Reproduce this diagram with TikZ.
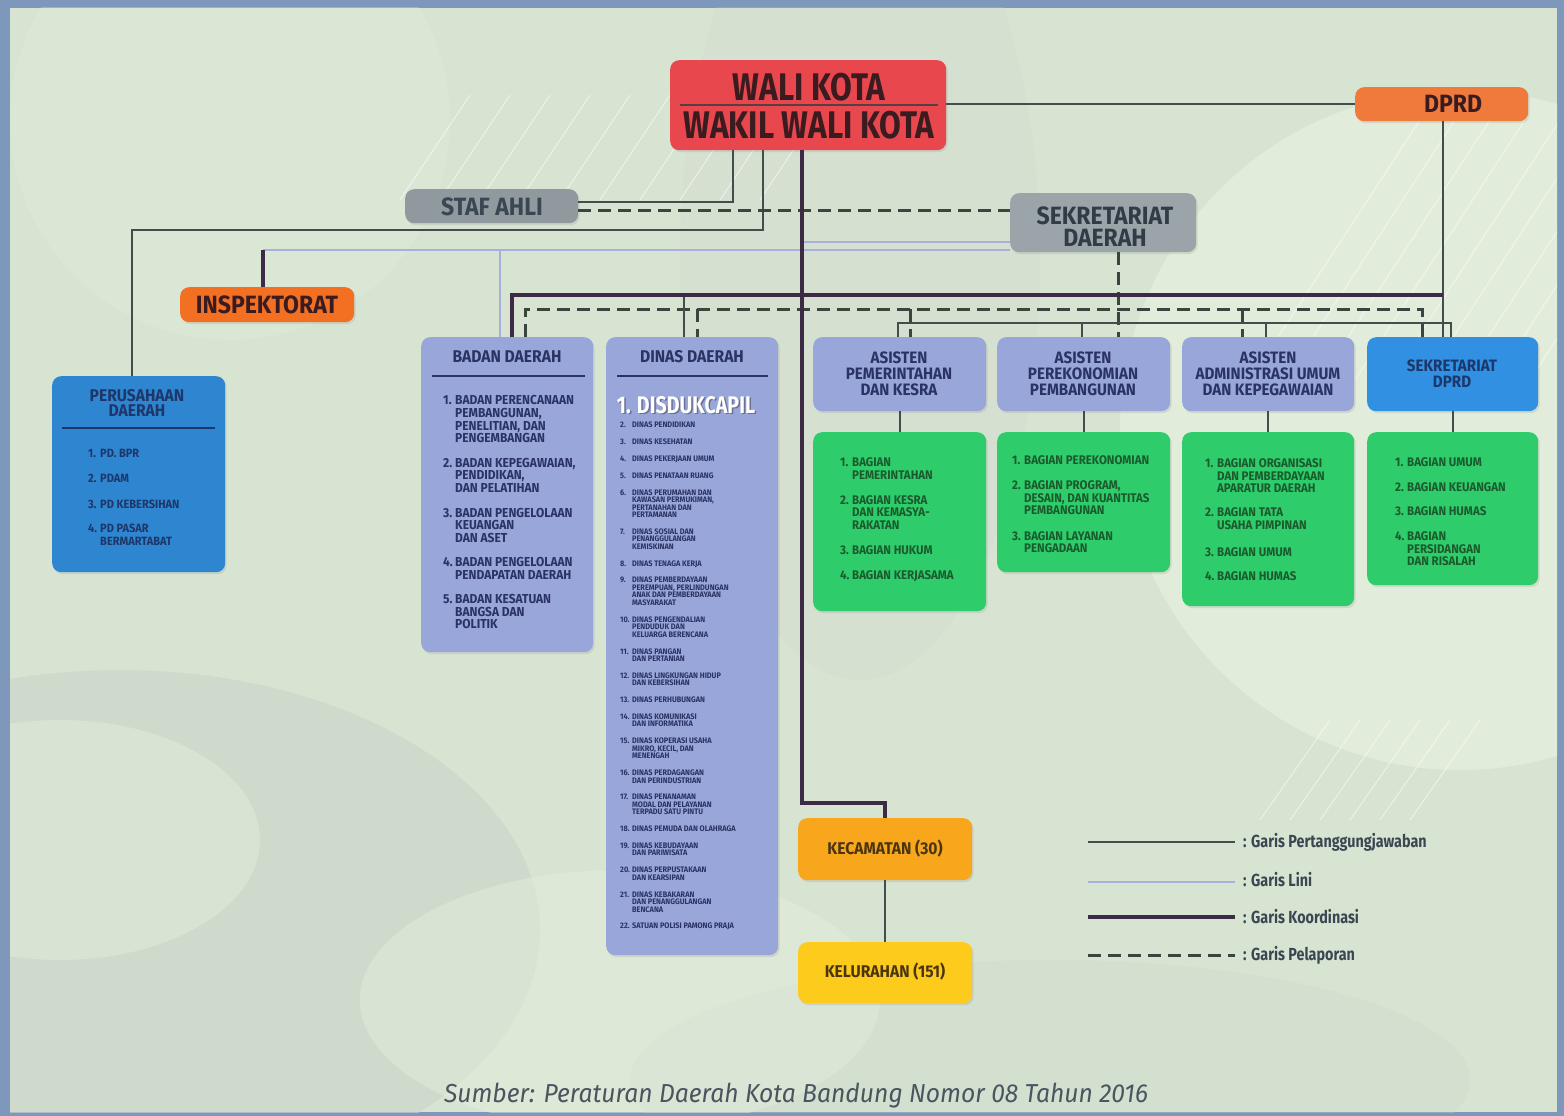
\documentclass[tikz,border=0pt]{standalone}
\usepackage{fontspec}
\setmainfont{Fira Sans}
\newfontfamily\cf{Fira Sans}[FakeStretch=0.82]
\newfontfamily\lf{Fira Sans}[FakeStretch=0.92]
\newfontfamily\srcf{Fira Sans}[FakeStretch=0.95]
\usetikzlibrary{shadows}
\definecolor{framec}{HTML}{7E98BC}
\definecolor{bgc}{HTML}{D8E4D2}
\definecolor{bglt}{HTML}{E4EEDD}
\definecolor{bgdk}{HTML}{CAD4CA}
\definecolor{wkc}{HTML}{E8474E}
\definecolor{wkt}{HTML}{3A1C20}
\definecolor{dprdc}{HTML}{EF7A3B}
\definecolor{inspc}{HTML}{F36F22}
\definecolor{grayc}{HTML}{8F999E}
\definecolor{grayt}{HTML}{3A4753}
\definecolor{sekc}{HTML}{9BA5A9}
\definecolor{lavc}{HTML}{98A6D9}
\definecolor{lavt}{HTML}{2A3363}
\definecolor{bluec}{HTML}{2E86D0}
\definecolor{blueb}{HTML}{3190E2}
\definecolor{bluet}{HTML}{1E376A}
\definecolor{grnc}{HTML}{2FCC6B}
\definecolor{grnt}{HTML}{1A5A2C}
\definecolor{kecc}{HTML}{F8A61C}
\definecolor{kelc}{HTML}{FCCB1C}
\definecolor{kect}{HTML}{4A3510}
\definecolor{thk}{HTML}{3D2B46}
\definecolor{thn}{HTML}{434D4C}
\definecolor{linc}{HTML}{A7B0DD}
\definecolor{dsh}{HTML}{3A4540}
\definecolor{srct}{HTML}{4A5560}
\newcommand\fz[2]{\fontsize{#1}{#2}\selectfont}
\newcommand\nb[1]{\makebox[12pt][l]{#1}}
\newcommand\ct{\hspace*{12pt}}
\newcommand\nbs[1]{\makebox[12pt][l]{#1}}
\newcommand\cts{\hspace*{12pt}}
\tikzset{
  box/.style={rounded corners=9pt, inner sep=0pt, anchor=north west, draw=none,
    drop shadow={opacity=0.18, shadow xshift=1.5pt, shadow yshift=-2pt}},
  thinln/.style={draw=thn, line width=1.6pt},
  linil/.style={draw=linc, line width=1.8pt},
  koord/.style={draw=thk, line width=4.5pt},
  lapor/.style={draw=dsh, line width=3pt, dash pattern=on 13pt off 7pt},
  hd/.style={inner sep=0pt, align=center},
  lst/.style={inner sep=0pt, anchor=north west, align=left},
  rain/.style={white, opacity=0.5, line width=1pt},
}
\begin{document}
\begin{tikzpicture}[x=1pt,y=-1pt]
\useasboundingbox (0,0) rectangle (1564,1116);
% ---------- background ----------
\fill[framec] (0,0) rectangle (1564,1116);
\fill[bgc] (10,8) rectangle (1557,1112);
\begin{scope}
\clip (10,8) rectangle (1557,1112);
\fill[bglt, opacity=0.8] (1460,430) circle (340);
\fill[bglt, opacity=0.3] (230,120) circle (220);
\fill[bgdk, opacity=0.6] (120,930) ellipse (420 and 260);
\fill[bglt, opacity=0.45] (60,840) ellipse (200 and 120);
\fill[bgdk, opacity=0.3] (1050,1080) ellipse (420 and 120);
\fill[bglt, opacity=0.45] (620,1000) ellipse (260 and 130);
\fill[bgdk, opacity=0.2] (860,260) ellipse (180 and 420);
\foreach \a in {0,40,...,360}{
  \draw[rain] (400+\a,200) -- (470+\a,95);
}
\foreach \a in {0,35,...,280}{
  \draw[rain] (1250+\a,380) -- (1420+\a,120);
}
\foreach \a in {0,30,...,150}{
  \draw[rain] (1260+\a,820) -- (1330+\a,720);
}
\end{scope}
% ---------- nodes ----------
\node[box, fill=wkc, minimum width=276pt, minimum height=90pt] (wk) at (670,60) {};
\draw[wkt!85, line width=1.8pt] ([xshift=10pt]wk.west) -- ([xshift=-8pt]wk.east);
\node[hd, text=wkt, font=\cf\bfseries\fz{38.5}{38}] (wk1) at (809,87) {WALI KOTA};
\node[hd, text=wkt, font=\cf\bfseries\fz{38.5}{38}] (wk2) at (809,125) {WAKIL WALI KOTA};

\node[box, fill=dprdc, minimum width=173pt, minimum height=34pt] (dprd) at (1355,87) {};
\node[hd, text=wkt, font=\lf\bfseries\fz{25}{25}] (dprdt) at (1453,104) {DPRD};

\node[box, fill=grayc, minimum width=173pt, minimum height=34pt] (staf) at (405,189) {};
\node[hd, text=grayt, font=\lf\bfseries\fz{25}{25}] (staft) at (492,207) {STAF AHLI};

\node[box, fill=sekc, minimum width=186pt, minimum height=59pt] (sekda) at (1010,193) {};
\node[hd, text=grayt!85!black, font=\lf\bfseries\fz{25}{22}] (sekdat) at (1105,227) {SEKRETARIAT\\DAERAH};

\node[box, fill=inspc, minimum width=174pt, minimum height=35pt] (insp) at (180,287) {};
\node[hd, text=wkt, font=\lf\bfseries\fz{25}{25}] (inspt) at (267,305) {INSPEKTORAT};

% Perusahaan daerah
\node[box, fill=bluec, minimum width=173pt, minimum height=196pt] (pd) at (52,376) {};
\node[hd, text=bluet, font=\lf\bfseries\fz{17}{15.5}] (pdt) at (137,403) {PERUSAHAAN\\DAERAH};
\draw[bluet, line width=2.5pt] (62,428) -- (215,428);
\node[lst, text=bluet, font=\lf\bfseries\fz{12}{13}] (pdl) at (88,449)
 {\nb{1.}PD. BPR\\[12pt]\nb{2.}PDAM\\[12.5pt]\nb{3.}PD KEBERSIHAN\\[11.5pt]\nb{4.}PD PASAR\\\ct BERMARTABAT};

% Badan daerah
\node[box, fill=lavc, minimum width=172pt, minimum height=315pt] (bd) at (421,337) {};
\node[hd, text=lavt, font=\lf\bfseries\fz{17}{16}] (bdt) at (507,357) {BADAN DAERAH};
\draw[lavt, line width=2.5pt] (432,376) -- (585,376);
\node[lst, text=lavt, font=\lf\bfseries\fz{13}{12.6}] (bdl) at (443,395.5)
 {\nb{1.}BADAN PERENCANAAN\\\ct PEMBANGUNAN,\\\ct PENELITIAN, DAN\\\ct PENGEMBANGAN\\[12pt]
  \nb{2.}BADAN KEPEGAWAIAN,\\\ct PENDIDIKAN,\\\ct DAN PELATIHAN\\[12pt]
  \nb{3.}BADAN PENGELOLAAN\\\ct KEUANGAN\\\ct DAN ASET\\[12pt]
  \nb{4.}BADAN PENGELOLAAN\\\ct PENDAPATAN DAERAH\\[11.5pt]
  \nb{5.}BADAN KESATUAN\\\ct BANGSA DAN\\\ct POLITIK};

% Dinas daerah
\node[box, fill=lavc, minimum width=172pt, minimum height=618pt] (dd) at (606,337) {};
\node[hd, text=lavt, font=\lf\bfseries\fz{17}{16}] (ddt) at (692,357) {DINAS DAERAH};
\draw[lavt, line width=2.5pt] (617,376) -- (768,376);
\node[hd, text=lavt!70, font=\cf\bfseries\fz{24}{24}] (dd1s) at (687.5,406.5) {1. DISDUKCAPIL};
\node[hd, text=white, font=\cf\bfseries\fz{24}{24}] (dd1) at (686,405) {1. DISDUKCAPIL};
\node[lst, text=lavt, font=\lf\bfseries\fz{8}{7.5}] (ddl) at (620,422)
 {\nbs{2.}DINAS PENDIDIKAN\\[9.3pt]
  \nbs{3.}DINAS KESEHATAN\\[9.3pt]
  \nbs{4.}DINAS PEKERJAAN UMUM\\[9.3pt]
  \nbs{5.}DINAS PENATAAN RUANG\\[9.3pt]
  \nbs{6.}DINAS PERUMAHAN DAN\\\cts KAWASAN PERMUKIMAN,\\\cts PERTANAHAN DAN\\\cts PERTAMANAN\\[9.3pt]
  \nbs{7.}DINAS SOSIAL DAN\\\cts PENANGGULANGAN\\\cts KEMISKINAN\\[9.3pt]
  \nbs{8.}DINAS TENAGA KERJA\\[9.3pt]
  \nbs{9.}DINAS PEMBERDAYAAN\\\cts PEREMPUAN, PERLINDUNGAN\\\cts ANAK DAN PEMBERDAYAAN\\\cts MASYARAKAT\\[9.3pt]
  \nbs{10.}DINAS PENGENDALIAN\\\cts PENDUDUK DAN\\\cts KELUARGA BERENCANA\\[9.3pt]
  \nbs{11.}DINAS PANGAN\\\cts DAN PERTANIAN\\[9.3pt]
  \nbs{12.}DINAS LINGKUNGAN HIDUP\\\cts DAN KEBERSIHAN\\[9.3pt]
  \nbs{13.}DINAS PERHUBUNGAN\\[9.3pt]
  \nbs{14.}DINAS KOMUNIKASI\\\cts DAN INFORMATIKA\\[9.3pt]
  \nbs{15.}DINAS KOPERASI USAHA\\\cts MIKRO, KECIL, DAN\\\cts MENENGAH\\[9.3pt]
  \nbs{16.}DINAS PERDAGANGAN\\\cts DAN PERINDUSTRIAN\\[9.3pt]
  \nbs{17.}DINAS PENANAMAN\\\cts MODAL DAN PELAYANAN\\\cts TERPADU SATU PINTU\\[9.3pt]
  \nbs{18.}DINAS PEMUDA DAN OLAHRAGA\\[9.3pt]
  \nbs{19.}DINAS KEBUDAYAAN\\\cts DAN PARIWISATA\\[9.3pt]
  \nbs{20.}DINAS PERPUSTAKAAN\\\cts DAN KEARSIPAN\\[9.3pt]
  \nbs{21.}DINAS KEBAKARAN\\\cts DAN PENANGGULANGAN\\\cts BENCANA\\[9.3pt]
  \nbs{22.}SATUAN POLISI PAMONG PRAJA};

% Asisten boxes
\node[box, fill=lavc, minimum width=173pt, minimum height=74pt] (asp) at (813,337) {};
\node[hd, text=lavt, font=\lf\bfseries\fz{16.5}{16}] (aspt) at (899,374) {ASISTEN\\PEMERINTAHAN\\DAN KESRA};
\node[box, fill=lavc, minimum width=173pt, minimum height=74pt] (ape) at (997,337) {};
\node[hd, text=lavt, font=\lf\bfseries\fz{16.5}{16}] (apet) at (1083,374) {ASISTEN\\PEREKONOMIAN\\PEMBANGUNAN};
\node[box, fill=lavc, minimum width=172pt, minimum height=74pt] (asa) at (1182,337) {};
\node[hd, text=lavt, font=\lf\bfseries\fz{16.5}{16}] (asat) at (1268,374) {ASISTEN\\ADMINISTRASI UMUM\\DAN KEPEGAWAIAN};
\node[box, fill=blueb, minimum width=171pt, minimum height=74pt] (sdprd) at (1367,337) {};
\node[hd, text=bluet, font=\lf\bfseries\fz{16.5}{16}] (sdprdt) at (1452,374) {SEKRETARIAT\\DPRD};

% Green boxes
\node[box, fill=grnc, minimum width=173pt, minimum height=179pt] (aspg) at (813,432) {};
\node[lst, text=grnt, font=\lf\bfseries\fz{12.5}{12.5}] (aspl) at (840,457.5)
 {\nb{1.}BAGIAN\\\ct PEMERINTAHAN\\[12.5pt]
  \nb{2.}BAGIAN KESRA\\\ct DAN KEMASYA-\\\ct RAKATAN\\[13pt]
  \nb{3.}BAGIAN HUKUM\\[12.5pt]
  \nb{4.}BAGIAN KERJASAMA};
\node[box, fill=grnc, minimum width=173pt, minimum height=140pt] (apeg) at (997,432) {};
\node[lst, text=grnt, font=\lf\bfseries\fz{12.5}{12.5}] (apel) at (1012,455.5)
 {\nb{1.}BAGIAN PEREKONOMIAN\\[12.5pt]
  \nb{2.}BAGIAN PROGRAM,\\\ct DESAIN, DAN KUANTITAS\\\ct PEMBANGUNAN\\[13pt]
  \nb{3.}BAGIAN LAYANAN\\\ct PENGADAAN};
\node[box, fill=grnc, minimum width=172pt, minimum height=174pt] (asag) at (1182,432) {};
\node[lst, text=grnt, font=\lf\bfseries\fz{12.5}{12.5}] (asal) at (1205,458.5)
 {\nb{1.}BAGIAN ORGANISASI\\\ct DAN PEMBERDAYAAN\\\ct APARATUR DAERAH\\[11.5pt]
  \nb{2.}BAGIAN TATA\\\ct USAHA PIMPINAN\\[14.5pt]
  \nb{3.}BAGIAN UMUM\\[11.5pt]
  \nb{4.}BAGIAN HUMAS};
\node[box, fill=grnc, minimum width=171pt, minimum height=153pt] (sdg) at (1367,432) {};
\node[lst, text=grnt, font=\lf\bfseries\fz{12.5}{12.5}] (sdl) at (1395,457.5)
 {\nb{1.}BAGIAN UMUM\\[12.5pt]
  \nb{2.}BAGIAN KEUANGAN\\[11.5pt]
  \nb{3.}BAGIAN HUMAS\\[12.5pt]
  \nb{4.}BAGIAN\\\ct PERSIDANGAN\\\ct DAN RISALAH};

% Kecamatan / Kelurahan
\node[box, fill=kecc, minimum width=174pt, minimum height=62pt] (kec) at (798,818) {};
\node[hd, text=kect, font=\lf\bfseries\fz{17}{17}] (kect) at (885,849) {KECAMATAN (30)};
\node[box, fill=kelc, minimum width=174pt, minimum height=61pt] (kel) at (798,942) {};
\node[hd, text=kect, font=\lf\bfseries\fz{17}{17}] (kelt) at (885,972) {KELURAHAN (151)};

% ---------- connectors ----------
\coordinate (hy) at (0,104);
\draw[thinln] (wk.east |- hy) -- (dprd.west |- hy);
\coordinate (dv) at (1443,0);
\draw[thinln] (dprd.south -| dv) -- (dv |- sdprd.north);

\coordinate (s1) at (733,202);
\draw[thinln] (wk.south -| s1) -- (s1) -- (s1 -| staf.east);
\coordinate (p1) at (763,230);
\coordinate (p2) at (132,230);
\draw[thinln] (wk.south -| p1) -- (p1) -- (p2) -- (p2 |- pd.north);

\coordinate (dy) at (0,210);
\draw[lapor] (staf.east |- dy) -- (sekda.west |- dy);

\coordinate (l1) at (263,250);
\coordinate (l2) at (500,250);
\coordinate (l3) at (802,242);
\draw[linil] (sekda.west |- l1) -- (l1);
\draw[linil] (sekda.west |- l3) -- (l3);
\draw[linil] (l2) -- (l2 |- bd.north);
\draw[koord] (l1) -- (l1 |- insp.north);

% reporting (dashed) bus
\coordinate (dL) at (525,309);
\coordinate (dR) at (1422,309);
\coordinate (d1) at (697,309);
\coordinate (d2) at (910,309);
\coordinate (d3) at (1242,309);
\coordinate (d4) at (1118,0);
\draw[lapor] (bd.north -| dL) -- (dL) -- (dR) -- (dR |- sdprd.north);
\draw[lapor] (d1) -- (d1 |- dd.north);
\draw[lapor] (d2) -- (d2 |- asp.north);
\draw[lapor] (d3) -- (d3 |- asa.north);
\draw[lapor] (sekda.south -| d4) -- (d4 |- ape.north);

% thin bus
\coordinate (t0) at (684,295);
\coordinate (t1) at (898,323);
\coordinate (t2) at (1082,323);
\coordinate (t3) at (1266,323);
\coordinate (t4) at (1451,323);
\draw[thinln] (t0) -- (t0 |- dd.north);
\draw[thinln] (t1 |- asp.north) -- (t1) -- (t4) -- (t4 |- sdprd.north);
\draw[thinln] (t2) -- (t2 |- ape.north);
\draw[thinln] (t3) -- (t3 |- asa.north);

% coordination (thick)
\coordinate (kL) at (512,295);
\coordinate (kR) at (1443,295);
\draw[koord] (bd.north -| kL) -- (kL) -- (kR);
\coordinate (kv) at (802,803);
\draw[koord] (wk.south -| kv) -- (kv) -- (kv -| kec.north) -- (kec.north);

% box to green
\draw[thinln] (asp.south) -- (aspg.north);
\draw[thinln] (ape.south) -- (apeg.north);
\draw[thinln] (asa.south) -- (asag.north);
\draw[thinln] (sdprd.south) -- (sdg.north);
\draw[thinln] (kec.south) -- (kel.north);

% ---------- legend ----------
\coordinate (g1a) at (1088,842); \coordinate (g1b) at (1235,842);
\coordinate (g2a) at (1088,882); \coordinate (g2b) at (1235,882);
\coordinate (g3a) at (1088,917); \coordinate (g3b) at (1235,917);
\coordinate (g4a) at (1088,955); \coordinate (g4b) at (1235,955);
\draw[thinln, line width=1.4pt] (g1a) -- (g1b);
\draw[linil] (g2a) -- (g2b);
\draw[koord] (g3a) -- (g3b);
\draw[lapor] (g4a) -- (g4b);
\node[anchor=west, inner sep=0pt, text=grayt, font=\cf\bfseries\fz{17.5}{17}] (lg1) at (1243,842) {: Garis Pertanggungjawaban};
\node[anchor=west, inner sep=0pt, text=grayt, font=\cf\bfseries\fz{17.5}{17}] (lg2) at (1243,880) {: Garis Lini};
\node[anchor=west, inner sep=0pt, text=grayt, font=\cf\bfseries\fz{17.5}{17}] (lg3) at (1243,917) {: Garis Koordinasi};
\node[anchor=west, inner sep=0pt, text=grayt, font=\cf\bfseries\fz{17.5}{17}] (lg4) at (1243,955) {: Garis Pelaporan};

% ---------- source ----------
\node[inner sep=0pt, text=srct, font=\srcf\itshape\fz{26}{26}] (src) at (796,1096) {Sumber: Peraturan Daerah Kota Bandung Nomor 08 Tahun 2016};
\end{tikzpicture}
\end{document}
